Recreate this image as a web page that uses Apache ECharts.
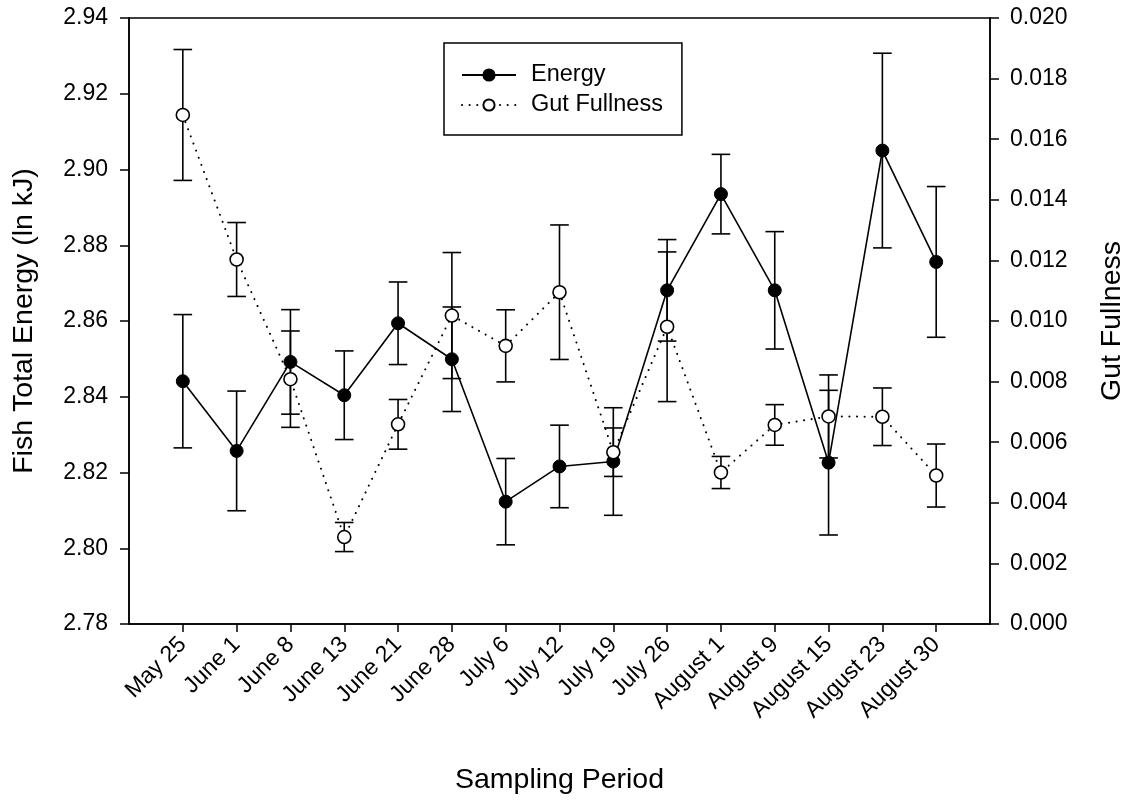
<!DOCTYPE html>
<html>
<head>
<meta charset="utf-8">
<script src="https://cdn.jsdelivr.net/npm/echarts@6/dist/echarts.min.js"></script>
<style>
html,body{margin:0;padding:0;background:#fff;}
#chart{width:1135px;height:800px;}
</style>
</head>
<body>
<div id="chart"></div>
<script>
// ---- data ----
const categories = ['May 25','June 1','June 8','June 13','June 21','June 28','July 6','July 12','July 19','July 26','August 1','August 9','August 15','August 23','August 30'];
const energy    = [2.8441, 2.8257, 2.8492, 2.8404, 2.8594, 2.8499, 2.8123, 2.8216, 2.8229, 2.8681, 2.8935, 2.8681, 2.8226, 2.9050, 2.8756];
const energyErr = [0.0176, 0.0158, 0.0138, 0.0117, 0.0109, 0.0138, 0.0114, 0.0109, 0.0142, 0.0134, 0.0105, 0.0155, 0.0191, 0.0257, 0.0199];
const gut       = [0.01680, 0.01203, 0.00808, 0.00287, 0.00659, 0.01018, 0.00918, 0.01095, 0.00567, 0.00981, 0.00500, 0.00657, 0.00685, 0.00684, 0.00490];
const gutErr    = [0.00216, 0.00122, 0.00159, 0.00048, 0.00082, 0.00208, 0.00119, 0.00222, 0.00080, 0.00247, 0.00053, 0.00067, 0.00137, 0.00095, 0.00104];
const leftTicks  = {min: 2.78, max: 2.94, step: 0.02};
const rightTicks = {min: 0, max: 0.020, step: 0.002};

// ---- build ----
const FONT = 'Liberation Sans, Arial, Helvetica, sans-serif';
const axisCats = [''].concat(categories).concat([' ']);
const isReal = (v) => v.trim() !== '';

function errData(vals, errs) {
  return categories.map((c, i) => [c, vals[i] - errs[i], vals[i] + errs[i]]);
}
function errRender(params, api) {
  const x = api.value(0);
  const lo = api.coord([x, api.value(1)]);
  const hi = api.coord([x, api.value(2)]);
  const w = 9.3;
  const st = {stroke: '#000', lineWidth: 1.6};
  return {
    type: 'group',
    children: [
      {type: 'line', shape: {x1: lo[0], y1: lo[1], x2: hi[0], y2: hi[1]}, style: st},
      {type: 'line', shape: {x1: hi[0] - w, y1: hi[1], x2: hi[0] + w, y2: hi[1]}, style: st},
      {type: 'line', shape: {x1: lo[0] - w, y1: lo[1], x2: lo[0] + w, y2: lo[1]}, style: st}
    ]
  };
}

const chart = echarts.init(document.getElementById('chart'), null, {renderer: 'canvas'});
const option = {
  animation: false,
  backgroundColor: '#fff',
  textStyle: {fontFamily: FONT, color: '#000'},
  grid: {left: 129, right: 140, top: 18, bottom: 175, show: true, borderColor: '#000', borderWidth: 1.5, containLabel: false},
  legend: {
    orient: 'vertical',
    left: 444, top: 43,
    padding: [20, 19, 18, 17],
    borderColor: '#000', borderWidth: 1.5, backgroundColor: '#fff',
    itemWidth: 54, itemHeight: 14, itemGap: 6,
    textStyle: {fontSize: 23.5, fontFamily: FONT, color: '#000', padding: [0, 0, 0, 10]},
    data: ['Energy', 'Gut Fullness']
  },
  xAxis: {
    type: 'category',
    data: axisCats,
    boundaryGap: false,
    name: 'Sampling Period',
    nameLocation: 'middle',
    nameGap: 142,
    nameTextStyle: {fontSize: 28.5, fontFamily: FONT, color: '#000'},
    axisLine: {lineStyle: {color: '#000', width: 1.5}},
    axisTick: {show: true, length: 8, lineStyle: {color: '#000', width: 1.5}, interval: (i, v) => isReal(v)},
    axisLabel: {interval: (i, v) => isReal(v), rotate: 45, fontSize: 23, fontFamily: FONT, color: '#000', margin: 17},
    splitLine: {show: false}
  },
  yAxis: [
    {
      type: 'value', position: 'left',
      min: leftTicks.min, max: leftTicks.max, interval: leftTicks.step,
      name: 'Fish Total Energy (ln kJ)', nameLocation: 'middle', nameGap: 90, nameRotate: 90,
      nameTextStyle: {fontSize: 28.5, fontFamily: FONT, color: '#000'},
      axisLine: {show: true, lineStyle: {color: '#000', width: 1.5}},
      axisTick: {show: true, length: 9, lineStyle: {color: '#000', width: 1.5}},
      axisLabel: {fontSize: 23, fontFamily: FONT, color: '#000', margin: 21, formatter: (v) => v.toFixed(2)},
      splitLine: {show: false}
    },
    {
      type: 'value', position: 'right',
      min: rightTicks.min, max: rightTicks.max, interval: rightTicks.step,
      name: 'Gut Fullness', nameLocation: 'middle', nameGap: 108, nameRotate: 90,
      nameTextStyle: {fontSize: 28.5, fontFamily: FONT, color: '#000'},
      axisLine: {show: true, lineStyle: {color: '#000', width: 1.5}},
      axisTick: {show: true, length: 9, lineStyle: {color: '#000', width: 1.5}},
      axisLabel: {fontSize: 23, fontFamily: FONT, color: '#000', margin: 20, formatter: (v) => v.toFixed(3)},
      splitLine: {show: false}
    }
  ],
  series: [
    {
      name: 'EnergyErr', type: 'custom', yAxisIndex: 0, z: 2,
      renderItem: errRender, encode: {x: 0, y: [1, 2]},
      data: errData(energy, energyErr)
    },
    {
      name: 'Energy', type: 'line', yAxisIndex: 0, z: 3,
      data: categories.map((c, i) => [c, energy[i]]),
      symbol: 'circle', symbolSize: 13,
      itemStyle: {color: '#000', borderColor: '#000', borderWidth: 1},
      lineStyle: {color: '#000', width: 1.6, type: 'solid'}
    },
    {
      name: 'GutErr', type: 'custom', yAxisIndex: 1, z: 4,
      renderItem: errRender, encode: {x: 0, y: [1, 2]},
      data: errData(gut, gutErr)
    },
    {
      name: 'Gut Fullness', type: 'line', yAxisIndex: 1, z: 5,
      data: categories.map((c, i) => [c, gut[i]]),
      symbol: 'circle', symbolSize: 13,
      itemStyle: {color: '#fff', borderColor: '#000', borderWidth: 1.6},
      lineStyle: {color: '#000', width: 2, type: [0.1, 7.5], cap: 'round'}
    }
  ]
};
chart.setOption(option);
</script>
</body>
</html>
